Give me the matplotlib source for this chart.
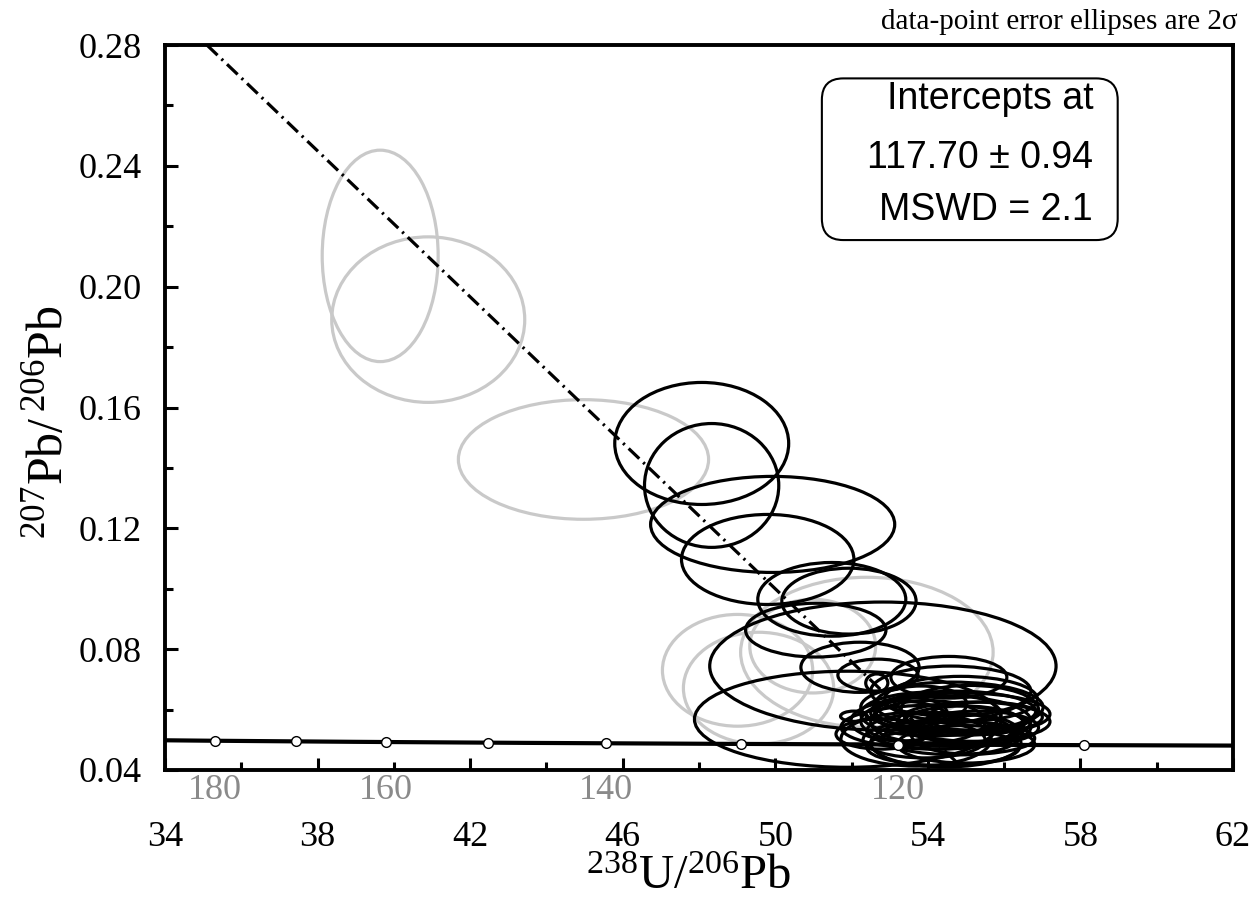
import numpy as np
import matplotlib
matplotlib.use("Agg")
import matplotlib.pyplot as plt
from matplotlib.patches import Ellipse, FancyBboxPatch

plt.rcParams['font.family'] = ['Liberation Serif', 'DejaVu Serif']
plt.rcParams['mathtext.fontset'] = 'custom'
plt.rcParams['mathtext.rm'] = 'Liberation Serif'
plt.rcParams['mathtext.it'] = 'Liberation Serif:italic'

# decay constants (1/yr) and 238U/235U
L238 = 1.55125e-10
L235 = 9.8485e-10
U_RATIO = 137.88

# results of the regression
lower_age = 117.70          # Ma
common_pb = 0.704           # 207Pb/206Pb at 238U/206Pb = 0
line_y_ends = [0.28, 0.0415]

# concordia age marks (Ma) and labelled ones
age_marks = [110, 120, 130, 140, 150, 160, 170, 180]
age_labels = [120, 140, 160, 180]

# grey (rejected) analyses: centre and 2 sigma half axes
gray_x = [39.64, 40.90, 44.97, 49.01, 49.56, 50.98, 52.40]
gray_y = [0.2102, 0.1891, 0.1428, 0.0730, 0.0671, 0.0810, 0.0790]
gray_sx = [1.52, 2.53, 3.28, 1.97, 1.97, 1.65, 3.31]
gray_sy = [0.0350, 0.0274, 0.0198, 0.0185, 0.0185, 0.0155, 0.0248]

# black (used) analyses
blk_x = [48.07, 48.33, 49.93, 49.80, 51.48, 51.93, 51.06, 52.82, 52.22, 52.69,
         51.90, 54.55, 54.60, 54.63, 54.73, 54.08, 54.47, 54.21, 54.92, 54.47,
         53.69, 53.29, 55.00, 52.77, 52.66, 52.06, 54.87, 53.82,
         54.90, 55.20, 54.30, 55.30, 54.00, 55.50, 53.90, 54.80, 55.10, 53.50,
         54.40, 55.00]
blk_y = [0.1481, 0.1342, 0.1213, 0.1097, 0.0965, 0.0959, 0.0863, 0.0744, 0.0740, 0.0714,
         0.0568, 0.0707, 0.0661, 0.0608, 0.0595, 0.0585, 0.0562, 0.0542, 0.0552, 0.0489,
         0.0502, 0.0562, 0.0519, 0.0519, 0.0688, 0.0578, 0.0635, 0.0618,
         0.0585, 0.0560, 0.0530, 0.0540, 0.0560, 0.0575, 0.0500, 0.0505, 0.0600, 0.0590,
         0.0475, 0.0485]
blk_sx = [2.28, 1.76, 3.20, 2.26, 1.94, 1.76, 1.84, 4.54, 1.55, 1.05,
          4.02, 1.52, 2.10, 2.39, 2.10, 1.84, 2.23, 2.49, 1.60, 1.97,
          1.97, 1.31, 1.44, 1.18, 0.29, 0.35, 2.00, 1.20,
          2.30, 2.00, 1.90, 1.60, 1.50, 1.50, 1.60, 2.00, 1.80, 1.00,
          2.00, 1.80]
blk_sy = [0.0202, 0.0205, 0.0159, 0.0149, 0.0122, 0.0109, 0.0089, 0.0212, 0.0083, 0.0053,
          0.0159, 0.0069, 0.0083, 0.0083, 0.0066, 0.0073, 0.0083, 0.0073, 0.0060, 0.0079,
          0.0089, 0.0066, 0.0066, 0.0050, 0.0030, 0.0017, 0.0075, 0.0060,
          0.0070, 0.0065, 0.0060, 0.0055, 0.0070, 0.0050, 0.0060, 0.0055, 0.0080, 0.0050,
          0.0060, 0.0062]


def concordia(t_ma):
    t = np.asarray(t_ma, dtype=float) * 1e6
    x = 1.0 / np.expm1(L238 * t)
    y = np.expm1(L235 * t) / np.expm1(L238 * t) / U_RATIO
    return x, y


fig = plt.figure(figsize=(12.6, 9.01), dpi=100)
ax = fig.add_axes([0.131, 0.1454, 0.8476, 0.8046])

# concordia curve
ages = np.linspace(95, 200, 400)
cx, cy = concordia(ages)
ax.plot(cx, cy, color='black', lw=3.0, zorder=3, solid_capstyle='butt')
mx, my = concordia(age_marks)
ax.plot(mx, my, 'o', ms=7, mfc='white', mec='black', mew=1.0, zorder=4)
lx, _ = concordia(age_labels)
for a, xx in zip(age_labels, lx):
    ax.annotate(str(a), xy=(xx, 0), xycoords=('data', 'axes fraction'),
                xytext=(0, -15), textcoords='offset points',
                ha='center', va='center', fontsize=26, color='#8a8a8a',
                annotation_clip=False)

# error ellipses
for x, y, sx, sy in zip(gray_x, gray_y, gray_sx, gray_sy):
    ax.add_patch(Ellipse((x, y), 2 * sx, 2 * sy, fill=False,
                         ec='#c9c9c9', lw=2.3, zorder=2))
for x, y, sx, sy in zip(blk_x, blk_y, blk_sx, blk_sy):
    ax.add_patch(Ellipse((x, y), 2 * sx, 2 * sy, fill=False,
                         ec='black', lw=2.3, zorder=2.5))

# discordia through the lower intercept
ix, iy = concordia(lower_age)
slope = (iy - common_pb) / ix
line_y = np.array(line_y_ends)
line_x = (line_y - common_pb) / slope
ax.plot(line_x, line_y, color='black', lw=2.3,
        linestyle=(0, (4.6, 1.7, 0.7, 1.7)), zorder=5)

ax.set_xlim(34, 62)
ax.set_ylim(0.04, 0.28)
ax.set_xticks(np.arange(34, 63, 4))
ax.set_xticks(np.arange(36, 62, 4), minor=True)
ax.set_yticks(np.arange(0.04, 0.281, 0.04))
ax.set_yticks(np.arange(0.06, 0.27, 0.04), minor=True)
ax.set_yticklabels(['%.2f' % v for v in np.arange(0.04, 0.281, 0.04)])
ax.tick_params(axis='x', which='both', direction='in', top=False, width=2.2,
               pad=37, labelsize=26)
ax.tick_params(axis='y', which='both', direction='in', right=False, width=2.2,
               pad=17, labelsize=26)
ax.tick_params(which='major', length=9)
ax.tick_params(which='minor', length=6)
for s in ax.spines.values():
    s.set_linewidth(2.8)

ax.set_xlabel(r'$^{238}\mathrm{U}/^{206}\mathrm{Pb}$', fontsize=35, va='center')
ax.xaxis.set_label_coords(0.49, -0.148)
ax.set_ylabel(r'$^{207}\mathrm{Pb}/\,^{206}\mathrm{Pb}$', fontsize=36, va='center')
ax.yaxis.set_label_coords(-0.108, 0.48)

# result box
ax.add_patch(FancyBboxPatch((0.615, 0.731), 0.277, 0.223,
                            boxstyle='round,pad=0,rounding_size=0.02',
                            mutation_aspect=1068 / 725, transform=ax.transAxes,
                            fc='white', ec='black', lw=1.5, zorder=6))
box_lines = ['Intercepts at', '117.70 \u00b1 0.94', 'MSWD = 2.1']
box_y = [0.9255, 0.844, 0.773]
for txt, yy in zip(box_lines, box_y):
    ax.text(0.869, yy, txt, transform=ax.transAxes, ha='right', va='center',
            fontsize=27, family=['Liberation Sans', 'DejaVu Sans'], zorder=7)

fig.text(0.982, 0.976, 'data-point error ellipses are 2\u03c3', ha='right',
         va='center', fontsize=21)

fig.savefig('out.png', dpi=100)
